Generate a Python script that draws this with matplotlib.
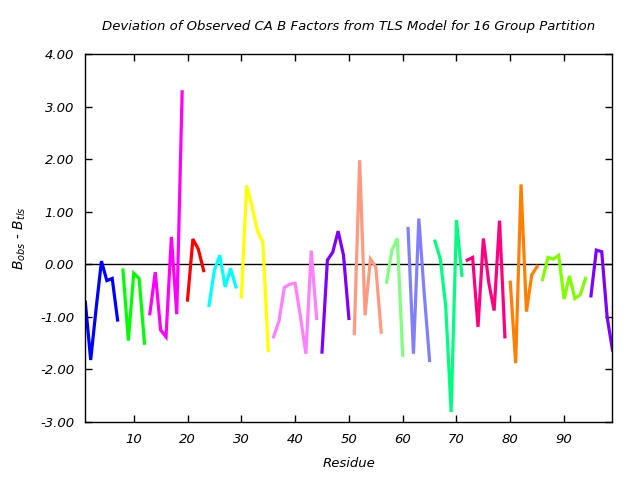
import matplotlib
matplotlib.use("Agg")
import matplotlib.pyplot as plt

# Residue ranges (start, end) of each TLS group and colours
group_ranges = [(1, 7), (8, 12), (13, 19), (20, 23), (24, 29), (30, 35), (36, 44),
                (45, 50), (51, 56), (57, 60), (61, 65), (66, 71), (72, 79), (80, 85),
                (86, 94), (95, 99)]
group_colors = ["#0000ff", "#00ff00", "#ff00ff", "#ff0000", "#00ffff", "#ffff00",
                "#ff80ff", "#8000ff", "#ff9980", "#80ff80", "#8080ff", "#00ff80",
                "#ff0080", "#ff8000", "#80ff00", "#8000ff"]

# B_obs - B_tls per residue, per group
g1 = [-0.72, -1.82, -0.85, 0.06, -0.31, -0.27, -1.06]
g2 = [-0.11, -1.45, -0.17, -0.27, -1.50]
g3 = [-0.94, -0.15, -1.25, -1.38, 0.52, -0.95, 3.28]
g4 = [-0.68, 0.48, 0.29, -0.12]
g5 = [-0.78, -0.11, 0.17, -0.43, -0.08, -0.43]
g6 = [-0.62, 1.50, 1.10, 0.63, 0.42, -1.64]
g7 = [-1.38, -1.08, -0.44, -0.38, -0.36, -1.00, -1.70, 0.26, -1.03]
g8 = [-1.67, 0.08, 0.23, 0.63, 0.17, -1.03]
g9 = [-1.32, 1.98, -0.97, 0.10, -0.05, -1.29]
g10 = [-0.34, 0.27, 0.49, -1.73]
g11 = [0.68, -1.70, 0.87, -0.55, -1.83]
g12 = [0.44, 0.10, -0.80, -2.81, 0.84, -0.21]
g13 = [0.08, 0.13, -1.19, 0.49, -0.35, -0.88, 0.83, -1.38]
g14 = [-0.34, -1.88, 1.52, -0.90, -0.20, -0.04]
g15 = [-0.29, 0.13, 0.10, 0.17, -0.66, -0.22, -0.65, -0.58, -0.27]
g16 = [-0.60, 0.27, 0.24, -1.00, -1.63]
group_values = [g1, g2, g3, g4, g5, g6, g7, g8, g9, g10, g11, g12, g13, g14, g15, g16]

x_ticks = [10, 20, 30, 40, 50, 60, 70, 80, 90]
y_ticks = [-3, -2, -1, 0, 1, 2, 3, 4]

fig = plt.figure(figsize=(6.4, 4.8), dpi=100)
ax = fig.add_axes([0.1333, 0.1208, 0.8237, 0.7667])

ax.axhline(0, color="black", lw=1.0, zorder=1)
for (s, e), col, vals in zip(group_ranges, group_colors, group_values):
    xs = list(range(s, e + 1))
    ax.plot(xs, vals, color=col, lw=2.3, solid_joinstyle="miter", zorder=2)

ax.set_xlim(1, 99)
ax.set_ylim(-3, 4)
ax.set_xticks(x_ticks)
ax.set_yticks(y_ticks)
ax.set_yticklabels([f"{v:.2f}" for v in y_ticks])
ax.tick_params(direction="in", top=True, right=True, length=5, width=1,
               labelsize=9.5, pad=8)
for lab in ax.get_xticklabels() + ax.get_yticklabels():
    lab.set_fontstyle("italic")
for sp in ax.spines.values():
    sp.set_linewidth(1.0)

ax.set_title("Deviation of Observed CA B Factors from TLS Model for 16 Group Partition",
             fontsize=9.5, style="italic", pad=17)
ax.set_xlabel("Residue", fontsize=9.5, style="italic", labelpad=8)
ax.set_ylabel(r"$B_{obs}$ - $B_{tls}$", fontsize=10, labelpad=9)

fig.savefig("out.png", dpi=100)
